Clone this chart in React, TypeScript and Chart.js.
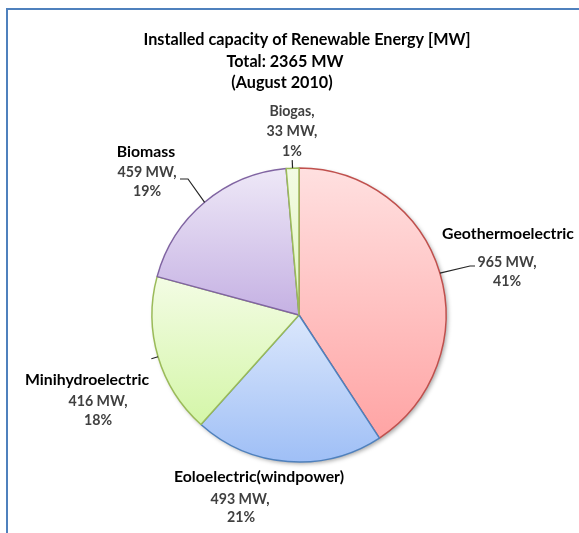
import { useEffect, useRef } from "react";
import { Chart, registerables } from "chart.js";

Chart.register(...registerables);

// ---------- data ----------
const categories = ["Geothermoelectric", "Eoloelectric(windpower)", "Minihydroelectric", "Biomass", "Biogas"];
const valuesMW = [965, 493, 416, 459, 33];
const percentLabels = ["41%", "21%", "18%", "19%", "1%"];
const titleLines = ["Installed capacity of Renewable Energy [MW]", "Total: 2365 MW", "(August 2010)"];

// ---------- styles ----------
const gradientTop = ["#ffe0e0", "#dbe7fc", "#f3fce4", "#eee8f7", "#f3fbe4"];
const gradientBottom = ["#ffa4a4", "#9fbff6", "#d4f6a8", "#c5b1e3", "#e0f4c0"];
const borderColors = ["#c0504d", "#4f81bd", "#9bbb59", "#8064a2", "#9bbb59"];

const FONT = "Lato, 'Open Sans', sans-serif";
const TITLE_FONT = `bold 16.2px ${FONT}`;
const NAME_FONT = `bold 15.8px ${FONT}`;
const VALUE_FONT = `bold 14.2px ${FONT}`;
const NAME_COLOR = "#000000";
const VALUE_COLOR = "#404040";

// layout of title lines [x center, y center]
const titlePos: [number, number][] = [
  [307, 40],
  [285, 62],
  [282, 83],
];

type LabelLayout = {
  name: [number, number];
  nameIsValueStyle: boolean;
  value: [number, number];
  pct: [number, number];
  leader: [number, number][] | null; // points after the arc point
  radialLeader: number; // if > 0, short radial leader of that length
};
const labelLayout: LabelLayout[] = [
  { name: [508, 234], nameIsValueStyle: false, value: [507, 262], pct: [507, 281], leader: [[470, 266], [475, 266]], radialLeader: 0 },
  { name: [259, 477], nameIsValueStyle: false, value: [240, 499], pct: [241, 517], leader: null, radialLeader: 0 },
  { name: [87, 380], nameIsValueStyle: false, value: [98, 401], pct: [98, 420], leader: null, radialLeader: 7 },
  { name: [146, 152], nameIsValueStyle: false, value: [147, 172], pct: [147, 191], leader: [[188, 179], [180, 179]], radialLeader: 0 },
  { name: [292, 111], nameIsValueStyle: true, value: [292, 131], pct: [292, 151], leader: null, radialLeader: 8 },
];

function arcYExtent(x: number, y: number, r: number, s: number, e: number) {
  const ys = [y, y + r * Math.sin(s), y + r * Math.sin(e)];
  for (const a of [-Math.PI / 2, Math.PI / 2, (3 * Math.PI) / 2]) {
    if (a >= s && a <= e) ys.push(y + r * Math.sin(a));
  }
  return [Math.min(...ys), Math.max(...ys)];
}

const decorPlugin = {
  id: "decor",
  beforeDraw(chart: any) {
    const ctx = chart.ctx;
    ctx.save();
    ctx.fillStyle = "#ffffff";
    ctx.fillRect(0, 0, chart.width, chart.height);
    ctx.fillStyle = "#4f81bd";
    ctx.fillRect(6, 8, chart.width - 6, 2);
    ctx.fillRect(6, 8, 2, chart.height - 8);
    ctx.restore();
  },
  beforeDatasetsDraw(chart: any) {
    const ctx = chart.ctx;
    const meta = chart.getDatasetMeta(0);
    if (!meta || !meta.data.length) return;
    const first = meta.data[0].getProps(["x", "y", "outerRadius"], true);
    ctx.save();
    ctx.shadowColor = "rgba(0,0,0,0.35)";
    ctx.shadowBlur = 4;
    ctx.shadowOffsetX = 2;
    ctx.shadowOffsetY = 2;
    ctx.fillStyle = "#ffffff";
    ctx.beginPath();
    ctx.arc(first.x, first.y, first.outerRadius, 0, Math.PI * 2);
    ctx.fill();
    ctx.restore();
    meta.data.forEach((el: any, i: number) => {
      const p = el.getProps(["x", "y", "startAngle", "endAngle", "outerRadius"], true);
      const [y0, y1] = arcYExtent(p.x, p.y, p.outerRadius, p.startAngle, p.endAngle);
      const g = ctx.createLinearGradient(0, y0, 0, y1);
      g.addColorStop(0, gradientTop[i]);
      g.addColorStop(1, gradientBottom[i]);
      try {
        el.options.backgroundColor = g;
      } catch (e) {
        /* ignore */
      }
    });
  },
  afterDatasetsDraw(chart: any) {
    const ctx = chart.ctx;
    const meta = chart.getDatasetMeta(0);
    ctx.save();
    ctx.strokeStyle = "#262626";
    ctx.lineWidth = 1.2;
    meta.data.forEach((el: any, i: number) => {
      const p = el.getProps(["x", "y", "startAngle", "endAngle", "outerRadius"], true);
      const mid = (p.startAngle + p.endAngle) / 2;
      const ax = p.x + Math.cos(mid) * p.outerRadius;
      const ay = p.y + Math.sin(mid) * p.outerRadius;
      const L = labelLayout[i];
      if (L.leader) {
        ctx.beginPath();
        ctx.moveTo(ax, ay);
        L.leader.forEach(([lx, ly]) => ctx.lineTo(lx, ly));
        ctx.stroke();
      } else if (L.radialLeader > 0) {
        ctx.beginPath();
        ctx.moveTo(ax, ay);
        ctx.lineTo(
          p.x + Math.cos(mid) * (p.outerRadius + L.radialLeader),
          p.y + Math.sin(mid) * (p.outerRadius + L.radialLeader)
        );
        ctx.stroke();
      }
    });
    ctx.textAlign = "center";
    ctx.textBaseline = "middle";
    categories.forEach((cat, i) => {
      const L = labelLayout[i];
      if (L.nameIsValueStyle) {
        ctx.font = VALUE_FONT;
        ctx.fillStyle = VALUE_COLOR;
        ctx.fillText(cat + ",", L.name[0], L.name[1]);
      } else {
        ctx.font = NAME_FONT;
        ctx.fillStyle = NAME_COLOR;
        ctx.fillText(cat, L.name[0], L.name[1]);
      }
      ctx.font = VALUE_FONT;
      ctx.fillStyle = VALUE_COLOR;
      ctx.fillText(`${valuesMW[i]} MW,`, L.value[0], L.value[1]);
      ctx.fillText(percentLabels[i], L.pct[0], L.pct[1]);
    });
    ctx.font = TITLE_FONT;
    ctx.fillStyle = "#000000";
    titleLines.forEach((t, i) => ctx.fillText(t, titlePos[i][0], titlePos[i][1]));
    ctx.restore();
  },
};

export default function App() {
  const canvasRef = useRef<HTMLCanvasElement | null>(null);
  useEffect(() => {
    if (!canvasRef.current) return;
    const chart = new Chart(canvasRef.current, {
      type: "pie",
      data: {
        labels: categories,
        datasets: [
          {
            data: valuesMW,
            backgroundColor: (c: any) => gradientBottom[c.dataIndex % gradientBottom.length],
            borderColor: borderColors,
            borderWidth: 1.5,
          },
        ],
      },
      options: {
        responsive: false,
        animation: false,
        devicePixelRatio: 1,
        radius: 147,
        layout: { padding: { left: 19, right: 0, top: 97, bottom: 0 } },
        plugins: {
          legend: { display: false },
          title: { display: false },
          tooltip: { enabled: false },
        },
      },
      plugins: [decorPlugin],
    });
    return () => chart.destroy();
  }, []);
  return (
    <div style={{ position: "fixed", left: 0, top: 0, width: 579, height: 533 }}>
      <canvas ref={canvasRef} width={579} height={533} style={{ display: "block" }} />
    </div>
  );
}
